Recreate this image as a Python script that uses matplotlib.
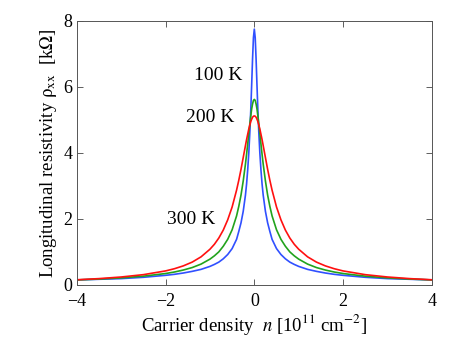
import numpy as np
import matplotlib
matplotlib.use("Agg")
import matplotlib.pyplot as plt

plt.rcParams['font.family'] = ['Liberation Serif', 'DejaVu Serif']
plt.rcParams['mathtext.fontset'] = 'stix'

# carrier density (positive half, curves are symmetric about n = 0)
n_half = [0, 0.02, 0.04, 0.06, 0.08, 0.1, 0.125, 0.15, 0.175, 0.2, 0.25, 0.3,
          0.35, 0.4, 0.5, 0.6, 0.7, 0.8, 0.9, 1.0, 1.2, 1.4, 1.6, 1.8, 2.0,
          2.5, 3.0, 3.5, 4.0]

# rho_xx in kOhm
rho_100K = [7.75, 7.49, 6.84, 6.05, 5.3, 4.65, 3.99, 3.47, 3.05, 2.72, 2.23, 1.88,
            1.62, 1.38, 1.1, 0.92, 0.79, 0.69, 0.62, 0.56, 0.47, 0.41, 0.36, 0.32,
            0.29, 0.23, 0.19, 0.17, 0.15]
rho_200K = [5.62, 5.59, 5.48, 5.33, 5.12, 4.89, 4.58, 4.26, 3.95, 3.66, 3.15, 2.72,
            2.38, 2.09, 1.67, 1.38, 1.17, 1.0, 0.88, 0.78, 0.63, 0.525, 0.45, 0.39,
            0.344, 0.264, 0.212, 0.177, 0.15]
rho_300K = [5.12, 5.11, 5.08, 5.02, 4.95, 4.85, 4.72, 4.56, 4.4, 4.22, 3.86, 3.5,
            3.17, 2.87, 2.36, 1.97, 1.66, 1.42, 1.23, 1.08, 0.85, 0.69, 0.576, 0.49,
            0.423, 0.31, 0.239, 0.19, 0.155]

labels = ["100 K", "200 K", "300 K"]
label_pos = [(-0.81, 6.33), (-1.0, 5.06), (-1.42, 1.97)]
colors = ['#3050ff', '#22a31c', '#ff1010']


def mirror(vals):
    vals = np.asarray(vals, dtype=float)
    return np.concatenate([vals[:0:-1], vals])


n_full = np.concatenate([-np.asarray(n_half)[:0:-1], np.asarray(n_half)])

fig = plt.figure(figsize=(4.57, 3.42), dpi=100)
ax = fig.add_axes([0.168, 0.167, 0.777, 0.772])

for rho, c in zip([rho_100K, rho_200K, rho_300K], colors):
    ax.plot(n_full, mirror(rho), color=c, linewidth=1.2)

for txt, (x, y) in zip(labels, label_pos):
    ax.text(x, y, txt, fontsize=14, ha='center', va='center')

ax.set_xlim(-4, 4)
ax.set_ylim(0, 8)
ax.set_xticks([-4, -2, 0, 2, 4])
ax.set_yticks([0, 2, 4, 6, 8])
ax.tick_params(direction='in', length=4, width=0.6, labelsize=13,
               top=True, right=True, color='#444444')
ax.tick_params(axis='x', pad=6)
ax.tick_params(axis='y', pad=3)
for s in ax.spines.values():
    s.set_color('#555555')
    s.set_linewidth(0.7)

ax.set_xlabel(r"Carrier density  $n$ [10$^{11}$ cm$^{-2}$]", fontsize=13.5, labelpad=1)
ax.set_ylabel(r"Longitudinal resistivity $\mathrm{\rho}_{\mathrm{xx}}$  [k$\Omega$]",
              fontsize=13.5, labelpad=3)

fig.savefig("out.png", dpi=100)
